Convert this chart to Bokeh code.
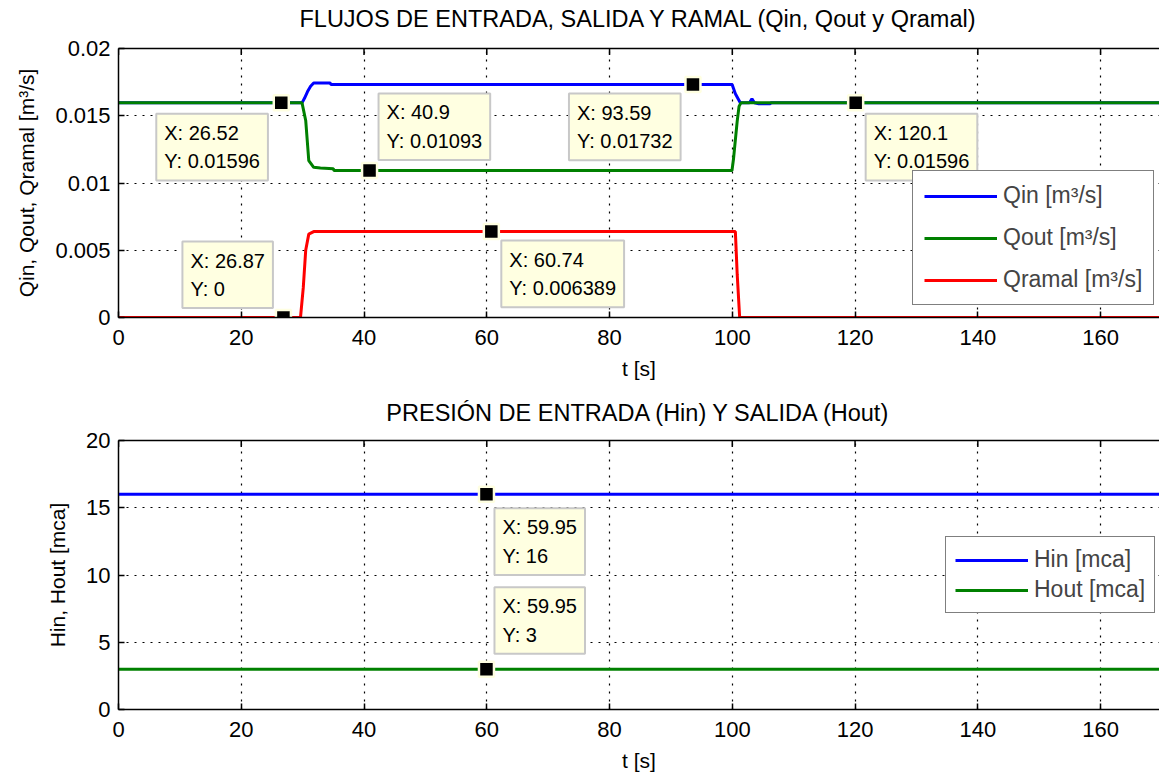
import math
from bokeh.plotting import figure
from bokeh.layouts import column
from bokeh.models import (Range1d, LinearAxis, FixedTicker, Label, Legend, LegendItem)
from bokeh.embed import file_html
from bokeh.resources import INLINE

# ---------------- data ----------------
t_in = [0, 29.9, 30.3, 30.8, 31.3, 31.8, 34.5, 34.6, 99.97, 100.5, 101.3, 102.8, 103.2, 103.6, 104.3, 106.2, 106.3, 170]
q_in = [0.01596, 0.01596, 0.0163, 0.0168, 0.0172, 0.01744, 0.01744, 0.01732, 0.01732, 0.01663, 0.01596,
        0.01596, 0.01626, 0.01596, 0.01589, 0.01589, 0.01596, 0.01596]

t_out = [0, 29.9, 30.5, 31.0, 31.8, 32.9, 35.0, 35.1, 99.95, 100.2, 100.5, 100.8, 101.1, 101.4, 170]
q_out = [0.01596, 0.01596, 0.01465, 0.01167, 0.01117, 0.01112, 0.01106, 0.01093, 0.01093, 0.0118,
         0.0132, 0.0146, 0.0157, 0.01596, 0.01596]

t_ram = [0, 29.65, 30.1, 30.5, 31.0, 31.8, 100.5, 100.8, 101.2, 170]
q_ram = [0, 0, 0.0022, 0.005, 0.0062, 0.006389, 0.006389, 0.0032, 0, 0]

t_h = [0, 170]
h_in = [16, 16]
h_out = [3, 3]

x_ticks = [0, 20, 40, 60, 80, 100, 120, 140, 160]
top_yticks = [0, 0.005, 0.01, 0.015, 0.02]
top_ytick_labels = ["0", "0.005", "0.01", "0.015", "0.02"]
bot_yticks = [0, 5, 10, 15, 20]

# data tips: x, y, text
tips_top_x = [26.52, 40.9, 93.59, 120.1, 26.87, 60.74]
tips_top_y = [0.01596, 0.01093, 0.01732, 0.01596, 0, 0.006389]
tips_top_txt = ["X: 26.52\nY: 0.01596", "X: 40.9\nY: 0.01093", "X: 93.59\nY: 0.01732",
                "X: 120.1\nY: 0.01596", "X: 26.87\nY: 0", "X: 60.74\nY: 0.006389"]
tips_bot_x = [59.95, 59.95]
tips_bot_y = [16, 3]
tips_bot_txt = ["X: 59.95\nY: 16", "X: 59.95\nY: 3"]

title_top = "FLUJOS DE ENTRADA, SALIDA Y RAMAL (Qin, Qout y Qramal)"
title_bot = "PRESIÓN DE ENTRADA (Hin) Y SALIDA (Hout)"

# ---------------- style ----------------
FONT = "Liberation Sans"
BLUE, GREEN, RED = "#0000FF", "#008000", "#FF0000"
TIP_BG = "#FFFFE1"
W, LEFT = 1159, 118

# screen offsets for tip boxes (top-left corner relative to marker, y up)
tips_top_off = [(-125, -11), (9, 77), (-124, -9), (10, -11), (-101, 76), (10, -9)]
tips_bot_off = [(8, -14), (8, 82)]


def style(p, yticks, yend, title, title_gap, ylabels=None):
    p.outline_line_color = None
    p.background_fill_color = "white"
    p.border_fill_color = "white"
    for ax in (p.xaxis[0], p.yaxis[0]):
        ax.major_tick_in = 6
        ax.major_tick_out = 0
        ax.minor_tick_in = 0
        ax.minor_tick_out = 0
        ax.axis_line_color = "black"
        ax.axis_line_width = 1.5
        ax.major_tick_line_color = "black"
        ax.major_tick_line_width = 1.5
        ax.major_label_text_font = FONT
        ax.major_label_text_font_size = "22px"
        ax.major_label_text_color = "black"
        ax.axis_label_text_font = FONT
        ax.axis_label_text_font_size = "21px"
        ax.axis_label_text_font_style = "normal"
        ax.axis_label_text_color = "black"
    p.xaxis[0].ticker = FixedTicker(ticks=x_ticks)
    p.yaxis[0].ticker = FixedTicker(ticks=yticks)
    if ylabels is not None:
        p.yaxis[0].major_label_overrides = {str(k): v for k, v in zip(yticks, ylabels)}
    p.xaxis[0].major_label_standoff = 12
    p.yaxis[0].major_label_standoff = 8
    p.xaxis[0].axis_label_standoff = 9
    p.yaxis[0].axis_label_standoff = 14
    # top box edge carrying the title as its label, + inward ticks
    top = LinearAxis(ticker=FixedTicker(ticks=[]), major_tick_in=0, major_tick_out=0,
                     minor_tick_in=0, minor_tick_out=0, axis_line_width=1.5,
                     major_label_standoff=0, axis_label=title, axis_label_standoff=title_gap,
                     axis_label_text_font=FONT, axis_label_text_font_size="23.5px",
                     axis_label_text_font_style="normal", axis_label_text_color="black")
    p.add_layout(top, "above")
    p.scatter(x_ticks, [yend] * len(x_ticks), marker="dash", angle=math.pi / 2, size=13,
              line_color="black", line_width=1.5)
    for g in (p.xgrid[0], p.ygrid[0]):
        g.grid_line_color = "black"
        g.grid_line_dash = "2 6"
        g.grid_line_width = 1.2
    p.xgrid[0].ticker = FixedTicker(ticks=x_ticks)
    p.ygrid[0].ticker = FixedTicker(ticks=yticks)


def add_tips(p, xs, ys, txts, offs):
    p.scatter(xs, ys, marker="square", size=15, fill_color="black", line_color=TIP_BG, line_width=2.5)
    for x, y, txt, (dx, dy) in zip(xs, ys, txts, offs):
        p.add_layout(Label(x=x, y=y, x_offset=dx, y_offset=dy, text=txt,
                           text_align="left", text_baseline="top", anchor="top_left",
                           text_font=FONT, text_font_size="20px", text_color="black",
                           text_line_height=1.3,
                           background_fill_color=TIP_BG, border_line_color="#C8C8C8",
                           border_line_width=2, padding=8))


# ---------------- top plot ----------------
p1 = figure(width=W, height=390, output_backend="svg", toolbar_location=None,
            x_range=Range1d(0, 169.6), y_range=Range1d(0, 0.02),
            x_axis_label="t [s]", y_axis_label="Qin, Qout, Qramal [m³/s]",
            min_border_left=LEFT, min_border_right=0, min_border_top=48, min_border_bottom=73)
style(p1, top_yticks, 0.02, title_top, 17, top_ytick_labels)
r_in = p1.line(t_in, q_in, color=BLUE, line_width=3)
r_out = p1.line(t_out, q_out, color=GREEN, line_width=3)
r_ram = p1.line(t_ram, q_ram, color=RED, line_width=3)
add_tips(p1, tips_top_x, tips_top_y, tips_top_txt, tips_top_off)
leg1 = Legend(items=[LegendItem(label="Qin [m³/s]", renderers=[r_in]),
                     LegendItem(label="Qout [m³/s]", renderers=[r_out]),
                     LegendItem(label="Qramal [m³/s]", renderers=[r_ram])],
              location=(794, 12), label_text_font=FONT, label_text_font_size="23px",
              glyph_width=73, glyph_height=20, label_height=20, spacing=15, padding=11,
              label_standoff=6, border_line_color="black", border_line_width=1.5,
              background_fill_alpha=1)
p1.add_layout(leg1, "center")

# ---------------- bottom plot ----------------
p2 = figure(width=W, height=384, output_backend="svg", toolbar_location=None,
            x_range=Range1d(0, 169.6), y_range=Range1d(0, 20),
            x_axis_label="t [s]", y_axis_label="Hin, Hout [mca]",
            min_border_left=LEFT, min_border_right=0, min_border_top=50, min_border_bottom=65)
style(p2, bot_yticks, 20, title_bot, 15)
r_hin = p2.line(t_h, h_in, color=BLUE, line_width=3)
r_hout = p2.line(t_h, h_out, color=GREEN, line_width=3)
add_tips(p2, tips_bot_x, tips_bot_y, tips_bot_txt, tips_bot_off)
leg2 = Legend(items=[LegendItem(label="Hin [mca]", renderers=[r_hin]),
                     LegendItem(label="Hout [mca]", renderers=[r_hout])],
              location=(827, 96), label_text_font=FONT, label_text_font_size="23px",
              glyph_width=73, glyph_height=20, label_height=20, spacing=3, padding=9,
              label_standoff=6, border_line_color="black", border_line_width=1.5,
              background_fill_alpha=1)
p2.add_layout(leg2, "center")

layout = column(p1, p2, spacing=0)
open("out.html", "w").write(file_html(layout, INLINE))
